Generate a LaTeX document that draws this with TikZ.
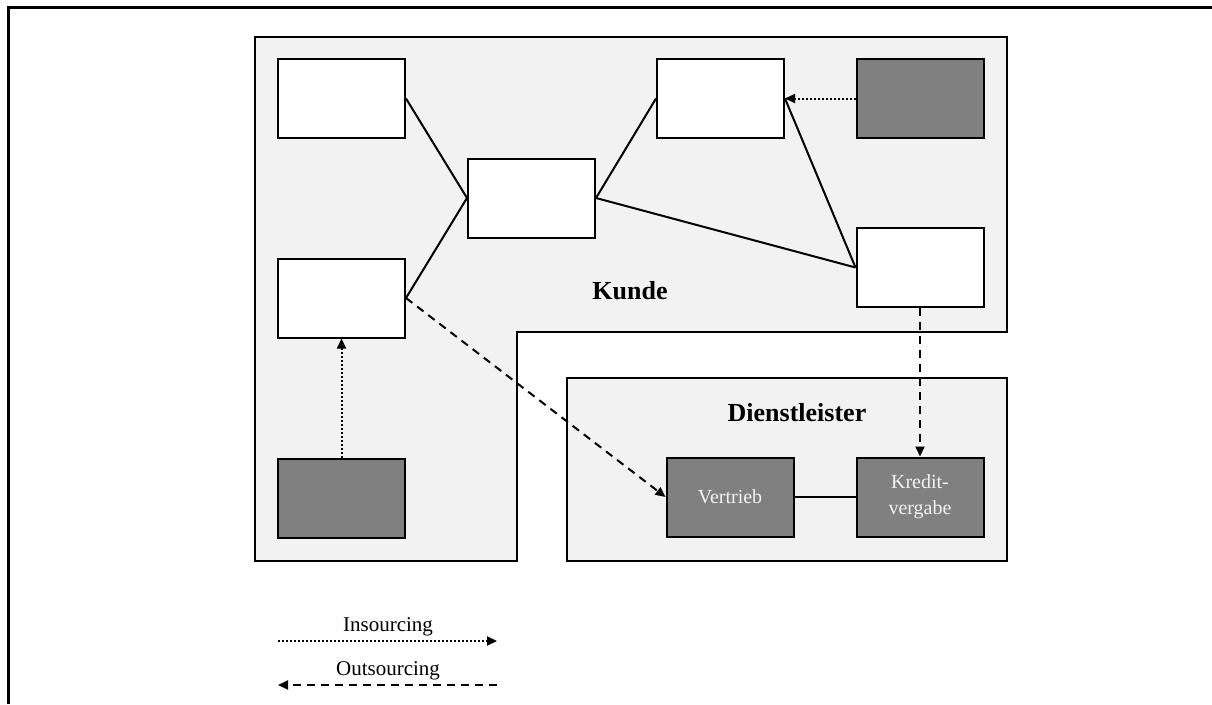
\documentclass[tikz,border=0pt]{standalone}
\usepackage{fontspec}
\setmainfont{Liberation Serif}
\usetikzlibrary{arrows.meta}
\definecolor{areafill}{HTML}{F2F2F2}
\definecolor{darkbox}{HTML}{808080}
\definecolor{lighttext}{HTML}{F2F2F2}
\tikzset{
  unit/.style={draw=black, line width=2pt, minimum width=127pt, minimum height=79pt, inner sep=0pt, align=center},
  whitebox/.style={unit, fill=white},
  darkunit/.style={unit, fill=darkbox, text=lighttext, font=\fontsize{20}{26}\selectfont},
  area/.style={draw=black, line width=2pt, fill=areafill},
  link/.style={line width=2pt},
  insrc/.style={line width=2pt, dash pattern=on 2pt off 2pt, -{Triangle[length=10pt,width=9pt]}},
  outsrc/.style={line width=2pt, dash pattern=on 8pt off 6pt, -{Triangle[length=10pt,width=9pt]}},
  arealabel/.style={font=\fontsize{26}{28}\selectfont\bfseries},
  legendlabel/.style={font=\fontsize{21}{22}\selectfont},
}
\begin{document}
\begin{tikzpicture}[x=1pt, y=-1pt]
\useasboundingbox (0,0) rectangle (1212,704);
% page frame (top and left only)
\draw[line width=3pt] (8,704) -- (8,7) -- (1212,7);

% customer area (L-shaped) and provider area
\draw[area] (255,37) -- (1007,37) -- (1007,332) -- (517,332) -- (517,561) -- (255,561) -- cycle;
\draw[area] (567,378) rectangle (1007,561);
\node[arealabel] (kunde) at (630,291) {Kunde};
\node[arealabel] (dl) at (797,413) {Dienstleister};

% units
\node[whitebox] (a) at (341.5,98.5) {};
\node[whitebox] (b) at (531.5,198) {};
\node[whitebox] (c) at (720.5,98.5) {};
\node[darkunit] (d) at (920,98.5) {};
\node[whitebox] (e) at (341.5,298) {};
\node[whitebox] (f) at (920,267.5) {};
\node[darkunit] (g) at (341.5,498) {};
\node[darkunit] (v) at (730,497) {Vertrieb};
\node[darkunit] (k) at (920,497) {Kredit-\\vergabe};

% relations
\draw[link] (a.east) -- (b.west);
\draw[link] (e.east) -- (b.west);
\draw[link] (b.east) -- (c.west);
\draw[link] (b.east) -- (f.west);
\draw[link] (c.east) -- (f.west);
\draw[link] (v.east) -- (k.west);

% sourcing flows
\draw[insrc] (d.west) -- (c.east);
\draw[insrc] (g.north) -- (e.south);
\draw[outsrc] (e.east) -- (v.west);
\draw[outsrc] (f.south) -- (k.north);

% legend
\coordinate (i1) at (278,641);
\coordinate (i2) at (497,641);
\coordinate (o1) at (497,685);
\coordinate (o2) at (278,685);
\draw[insrc] (i1) -- (i2);
\draw[outsrc] (o1) -- (o2);
\node[legendlabel] (il) at (388,627) {Insourcing};
\node[legendlabel] (ol) at (388,671) {Outsourcing};
\end{tikzpicture}
\end{document}
